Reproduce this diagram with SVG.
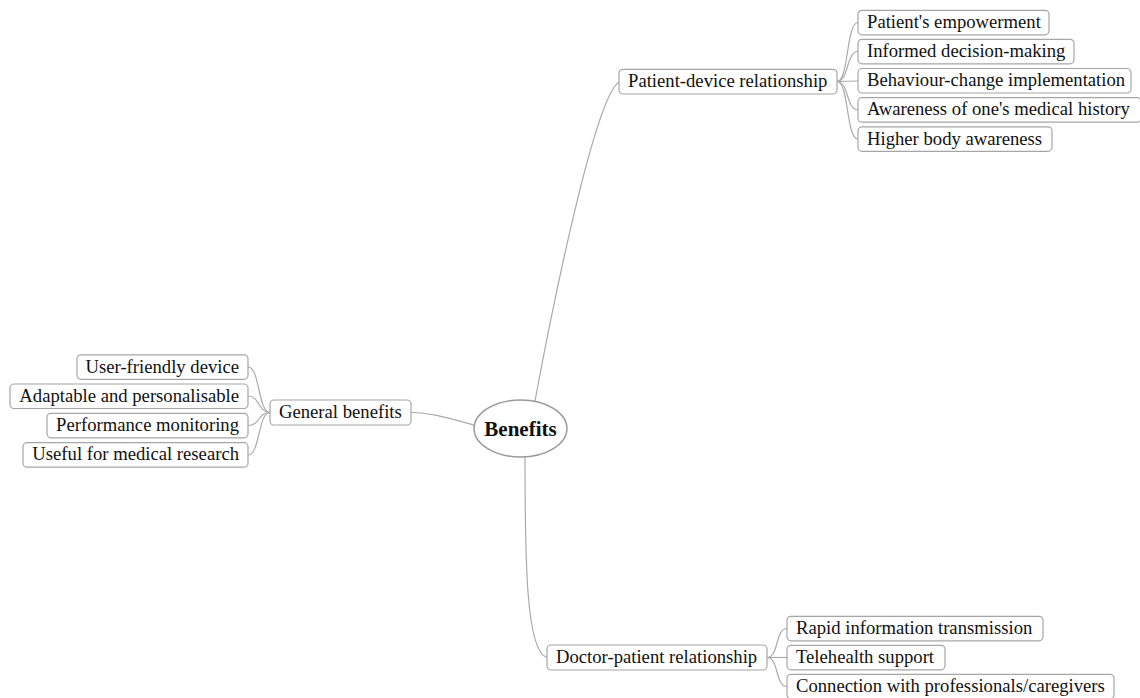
<svg xmlns="http://www.w3.org/2000/svg" width="1140" height="698" viewBox="0 0 1140 698">
<style>
.box{fill:#fff;stroke:#a6a6a6;stroke-width:1.2}
.t{font-family:"Liberation Serif","Times New Roman",serif;font-size:18.67px;fill:#111}
.r{text-anchor:end}
.c{fill:none;stroke:#aaaaaa;stroke-width:1.2}
.root{fill:#fff;stroke:#9a9a9a;stroke-width:1.4}
.rt{font-family:"Liberation Serif","Times New Roman",serif;font-size:21px;font-weight:bold;fill:#111;text-anchor:middle}
</style>
<rect width="1140" height="698" fill="#fff"/>
<g id="connectors">
<path class="c" d="M535,401 C550,320 594,98 619,82"/>
<path class="c" d="M525,457 C525,560 526,652 547,657.5"/>
<path class="c" d="M474,425 C448,418 430,412.5 411,412.5"/>
<path class="c" d="M270,412.5 C258,412.5 260,367 248,367"/>
<path class="c" d="M270,412.5 C258,412.5 260,396 248,396"/>
<path class="c" d="M270,412.5 C258,412.5 260,425.5 248,425.5"/>
<path class="c" d="M270,412.5 C258,412.5 260,455 248,455"/>
<path class="c" d="M837,81.5 C849,81.5 846,22.5 858,22.5"/>
<path class="c" d="M837,81.5 C849,81.5 846,51.5 858,51.5"/>
<path class="c" d="M837,81.5 L858,81"/>
<path class="c" d="M837,81.5 C849,81.5 846,110 858,110"/>
<path class="c" d="M837,81.5 C849,81.5 846,139 858,139"/>
<path class="c" d="M767,657.5 C779,657.5 775,628.5 787,628.5"/>
<path class="c" d="M767,657.5 L787,657.5"/>
<path class="c" d="M767,657.5 C779,657.5 775,686.5 787,686.5"/>
</g>
<g id="benefits">
<ellipse class="root" cx="520.5" cy="428.5" rx="46.5" ry="28.5"/>
<text class="rt" x="520.5" y="436">Benefits</text>
</g>
<g id="patient-device">
<rect class="box" x="619" y="69.3" width="218" height="24.7" rx="4"/>
<text class="t" x="628" y="87">Patient-device relationship</text>
</g>
<g id="pd-empowerment">
<rect class="box" x="858" y="10.3" width="191" height="24.5" rx="4"/>
<text class="t" x="867" y="28">Patient's empowerment</text>
</g>
<g id="pd-informed">
<rect class="box" x="858" y="39.3" width="216" height="24.5" rx="4"/>
<text class="t" x="867" y="57">Informed decision-making</text>
</g>
<g id="pd-behaviour">
<rect class="box" x="858" y="68.5" width="273" height="24.5" rx="4"/>
<text class="t" x="867" y="86.2">Behaviour-change implementation</text>
</g>
<g id="pd-awareness">
<rect class="box" x="858" y="97.7" width="283" height="24.5" rx="4"/>
<text class="t" x="867" y="115.4">Awareness of one's medical history</text>
</g>
<g id="pd-body">
<rect class="box" x="858" y="126.8" width="194" height="24.5" rx="4"/>
<text class="t" x="867" y="144.5">Higher body awareness</text>
</g>
<g id="general">
<rect class="box" x="270" y="400" width="141" height="25" rx="4"/>
<text class="t" x="279" y="418">General benefits</text>
</g>
<g id="gb-user">
<rect class="box" x="77" y="354.8" width="171" height="24.5" rx="4"/>
<text class="t r" x="239" y="372.5">User-friendly device</text>
</g>
<g id="gb-adaptable">
<rect class="box" x="10" y="384" width="238" height="24.5" rx="4"/>
<text class="t r" x="239" y="401.7">Adaptable and personalisable</text>
</g>
<g id="gb-performance">
<rect class="box" x="47" y="413.3" width="201" height="24.5" rx="4"/>
<text class="t r" x="239" y="431">Performance monitoring</text>
</g>
<g id="gb-useful">
<rect class="box" x="23" y="442.7" width="225" height="24.5" rx="4"/>
<text class="t r" x="239" y="460.4">Useful for medical research</text>
</g>
<g id="doctor-patient">
<rect class="box" x="547" y="645" width="220" height="25" rx="4"/>
<text class="t" x="556" y="663">Doctor-patient relationship</text>
</g>
<g id="dp-rapid">
<rect class="box" x="787" y="616.3" width="256" height="24.5" rx="4"/>
<text class="t" x="796" y="634">Rapid information transmission</text>
</g>
<g id="dp-telehealth">
<rect class="box" x="787" y="645.3" width="158" height="24.5" rx="4"/>
<text class="t" x="796" y="663">Telehealth support</text>
</g>
<g id="dp-connection">
<rect class="box" x="787" y="674.3" width="327" height="24.5" rx="4"/>
<text class="t" x="796" y="692">Connection with professionals/caregivers</text>
</g>
</svg>
